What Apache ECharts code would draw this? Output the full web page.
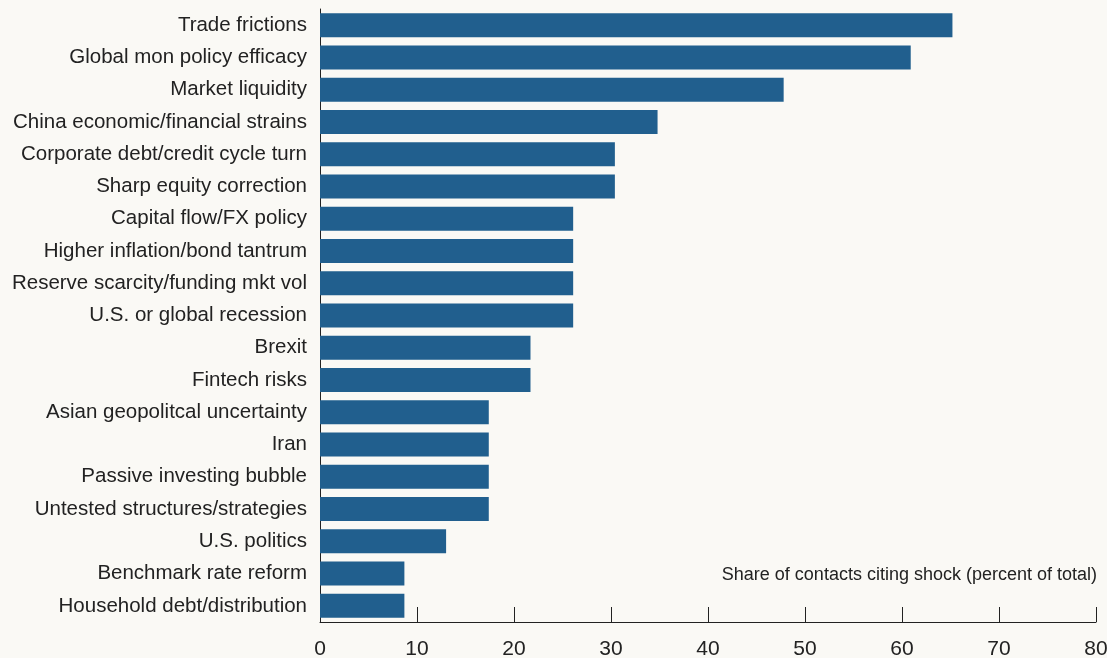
<!DOCTYPE html>
<html>
<head>
<meta charset="utf-8">
<script src="https://cdn.jsdelivr.net/npm/echarts@6/dist/echarts.min.js"></script>
<style>
    html, body { margin: 0; padding: 0; background: #faf9f5; }
    #shockChart { width: 1107px; height: 658px; }
</style>
</head>
<body>
<div id="shockChart"></div>
<script>
    // categories top to bottom
    const categories = [
        'Trade frictions',
        'Global mon policy efficacy',
        'Market liquidity',
        'China economic/financial strains',
        'Corporate debt/credit cycle turn',
        'Sharp equity correction',
        'Capital flow/FX policy',
        'Higher inflation/bond tantrum',
        'Reserve scarcity/funding mkt vol',
        'U.S. or global recession',
        'Brexit',
        'Fintech risks',
        'Asian geopolitcal uncertainty',
        'Iran',
        'Passive investing bubble',
        'Untested structures/strategies',
        'U.S. politics',
        'Benchmark rate reform',
        'Household debt/distribution'
    ];
    const shares = [65.2, 60.9, 47.8, 34.8, 30.4, 30.4, 26.1, 26.1, 26.1, 26.1,
        21.7, 21.7, 17.4, 17.4, 17.4, 17.4, 13.0, 8.7, 8.7];
    const xTicks = [0, 80, 10];  // min, max, step
    const axisNote = 'Share of contacts citing shock (percent of total)';

    let myChart = echarts.init(document.getElementById('shockChart'));
    let option = {
        backgroundColor: '#faf9f5',
        textStyle: { fontFamily: 'Liberation Sans, Arial, sans-serif' },
        title: {
            text: axisNote,
            right: 5,
            top: 561,
            textStyle: { fontSize: 18, fontWeight: 'normal', color: '#222' }
        },
        grid: { left: 320, right: 11, top: 9, bottom: 36, outerBoundsMode: 'none' },
        xAxis: {
            type: 'value',
            min: xTicks[0],
            max: xTicks[1],
            interval: xTicks[2],
            splitLine: { show: false },
            axisLine: { show: true, lineStyle: { color: '#222', width: 1 } },
            axisTick: { show: true, inside: true, length: 15, lineStyle: { color: '#222' } },
            axisLabel: { fontSize: 21, color: '#222', margin: 17 }
        },
        yAxis: {
            type: 'category',
            inverse: true,
            data: categories,
            axisLine: { show: true, lineStyle: { color: '#222', width: 1 } },
            axisTick: { show: false },
            axisLabel: { fontSize: 20.5, color: '#222', margin: 13 }
        },
        series: [{
            type: 'bar',
            data: shares,
            barWidth: 24,
            itemStyle: { color: '#215f8e' },
            silent: true
        }]
    };
    myChart.setOption(option);
</script>
</body>
</html>
